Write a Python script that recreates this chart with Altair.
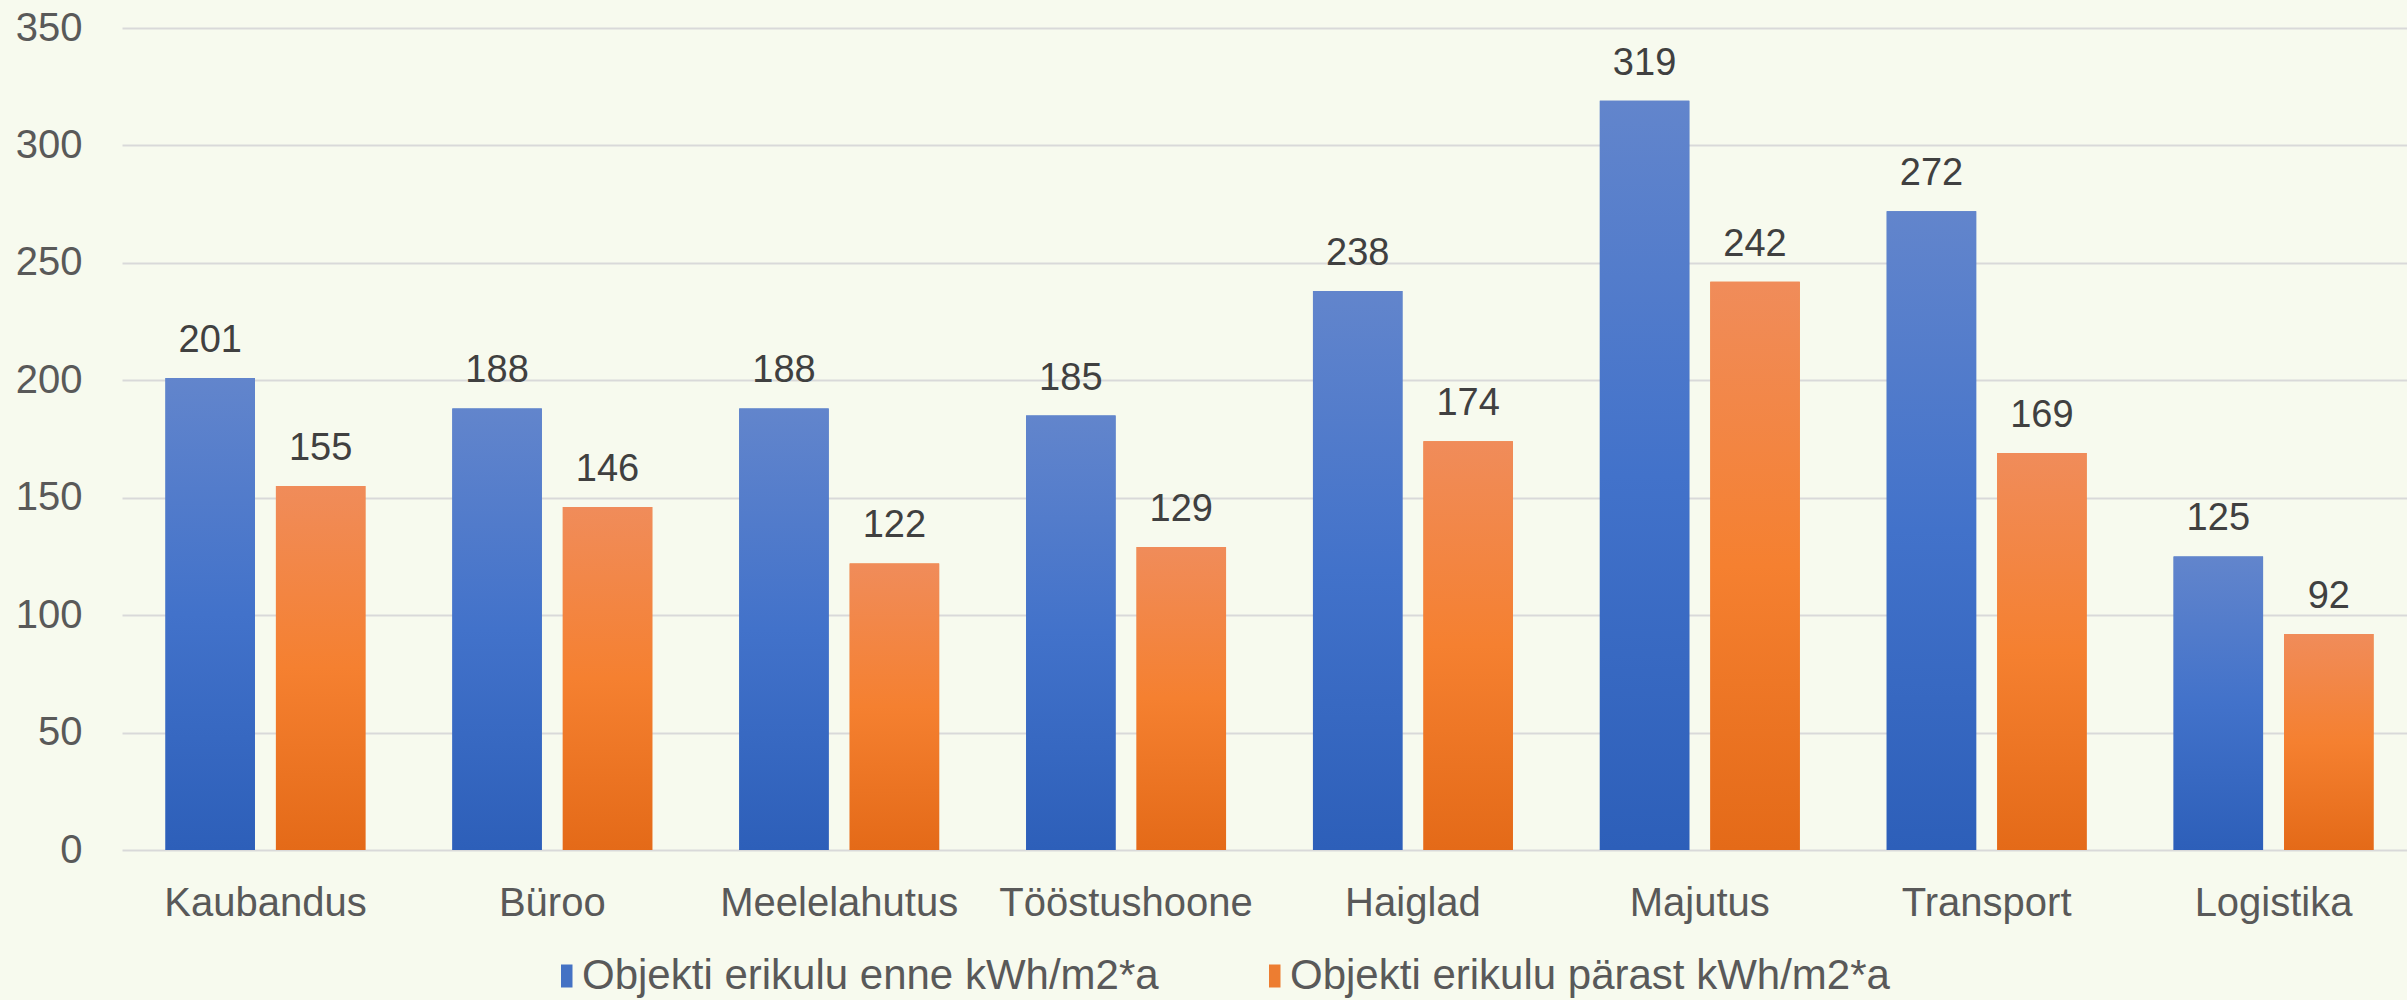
import altair as alt
import pandas as pd

categories = ["Kaubandus", "Büroo", "Meelelahutus", "Tööstushoone", "Haiglad", "Majutus", "Transport", "Logistika"]
series = ["Objekti erikulu enne kWh/m2*a", "Objekti erikulu pärast kWh/m2*a"]
before = [201, 188, 188, 185, 238, 319, 272, 125]
after = [155, 146, 122, 129, 174, 242, 169, 92]
y_ticks = [0, 50, 100, 150, 200, 250, 300, 350]

rows = []
for c, b, a in zip(categories, before, after):
    rows.append({"cat": c, "series": series[0], "value": b})
    rows.append({"cat": c, "series": series[1], "value": a})
df = pd.DataFrame(rows)

FONT = "Liberation Sans"

blue_grad = alt.Gradient(
    gradient="linear", x1=0, x2=0, y1=0, y2=1,
    stops=[alt.GradientStop(color="#6285CC", offset=0),
           alt.GradientStop(color="#4272CA", offset=0.5),
           alt.GradientStop(color="#2D5FB9", offset=1)])
orange_grad = alt.Gradient(
    gradient="linear", x1=0, x2=0, y1=0, y2=1,
    stops=[alt.GradientStop(color="#F08C5A", offset=0),
           alt.GradientStop(color="#F58030", offset=0.5),
           alt.GradientStop(color="#E46A18", offset=1)])

base = alt.Chart(df).encode(
    x=alt.X("cat:N", sort=categories, title=None,
            scale=alt.Scale(range=[0, 2295], paddingInner=0.303, paddingOuter=0.1515),
            axis=alt.Axis(labelAngle=0, labelFontSize=40, labelColor="#595959",
                          labelFont=FONT, ticks=False, domain=False, grid=False,
                          labelPadding=33, labelLimit=1000)),
    xOffset=alt.XOffset("series:N", sort=series, scale=alt.Scale(paddingInner=0.19)),
    y=alt.Y("value:Q", title=None,
            scale=alt.Scale(domain=[0, 350], nice=False),
            axis=alt.Axis(values=y_ticks, labelFontSize=40, labelColor="#595959",
                          labelFont=FONT, ticks=False, domain=False, grid=True,
                          gridColor="#D9D9D9", gridWidth=2, labelPadding=40)),
)

legend_bars = base.mark_bar().encode(
    color=alt.Color("series:N", sort=series,
                    scale=alt.Scale(domain=series, range=["#4472C4", "#ED7D31"]),
                    legend=alt.Legend(orient="none", legendX=418, legendY=927,
                                      direction="horizontal", title=None,
                                      labelFontSize=42, labelColor="#595959", labelFont=FONT,
                                      symbolType="M0,-1H1V1H0Z", symbolSize=529,
                                      symbolStrokeWidth=0, labelOffset=0,
                                      columnPadding=89, labelLimit=1000))
)

blue_bars = base.transform_filter(alt.datum.series == series[0]).mark_bar(color=blue_grad)
orange_bars = base.transform_filter(alt.datum.series == series[1]).mark_bar(color=orange_grad)

labels = base.mark_text(baseline="bottom", dy=-18, fontSize=38, color="#404040", font=FONT).encode(
    text=alt.Text("value:Q"))

chart = alt.layer(legend_bars, blue_bars, orange_bars, labels).properties(
    width=2285, height=822,
    background="#F7FAEE",
    padding={"left": 122, "top": 28, "right": 0, "bottom": 150},
    autosize=alt.AutoSizeParams(type="none"),
).configure_view(stroke=None)

chart.save("out.html", embed_options={"renderer": "svg", "actions": False})
